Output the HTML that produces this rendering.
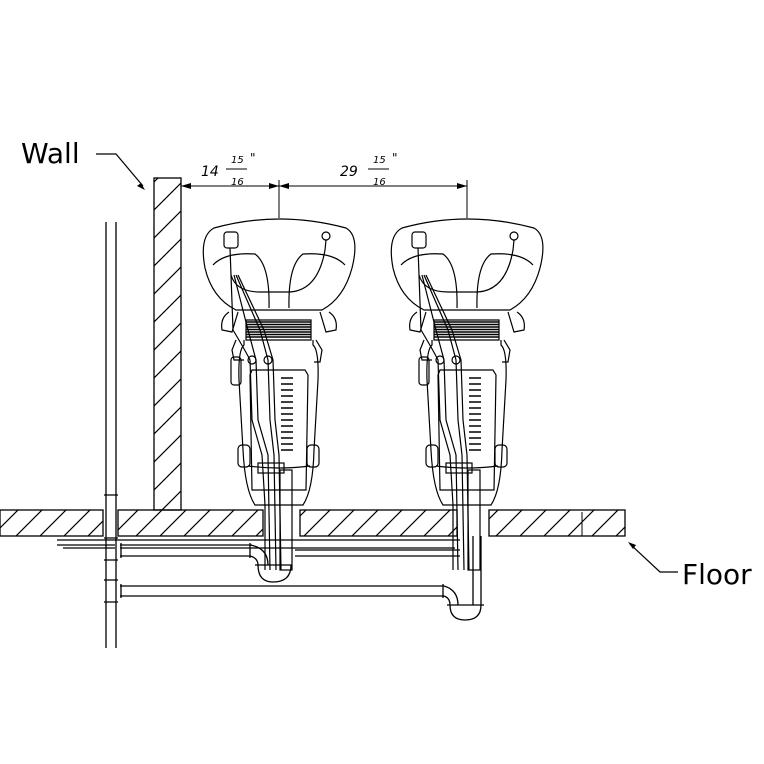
<!DOCTYPE html>
<html><head><meta charset="utf-8"><style>
html,body{margin:0;padding:0;background:#fff;}
svg{display:block;}
text{font-family:"DejaVu Sans","Liberation Sans",sans-serif;}
</style></head><body>
<svg width="764" height="764" viewBox="0 0 764 764" xmlns="http://www.w3.org/2000/svg">
<defs>
<pattern id="h" patternUnits="userSpaceOnUse" width="24" height="24">
<path d="M-6,30 L30,-6 M-30,30 L6,-6 M18,30 L54,-6" stroke="#000" stroke-width="1.2"/>
</pattern>
<pattern id="hw" patternUnits="userSpaceOnUse" width="28" height="28">
<path d="M0,28 L28,0 M-14,14 L14,-14 M14,42 L42,14" stroke="#000" stroke-width="1.2"/>
</pattern>
<g id="chair" fill="none" stroke="#000" stroke-width="1.2">
<path d="M214,228 Q279,210 346,228 Q360,236 352,268 Q344,298 322,310 L236,310 Q212,298 205,268 Q199,236 214,228 Z"/>
<path d="M213,265 Q225,252 255,254 Q270,265 269,308"/>
<path d="M345,265 Q333,252 303,254 Q288,265 289,308"/>
<path d="M229,312 Q220,318 222,330 L232,332 L238,312"/>
<path d="M329,312 Q338,318 336,330 L326,332 L320,312"/>
<path d="M246,320 L311,320 L311,340 L246,340 Z"/>
<path d="M246,322 H311 M246,324.5 H311 M246,327 H311 M246,329.5 H311 M246,332 H311 M246,334.5 H311 M246,337 H311" stroke-width="1.6"/>
<path d="M244,340 L244,345 Q238,350 239,380 L243,450 Q245,490 255,505 L303,505 Q313,490 314,450 L318,380 Q319,350 313,345 L313,340"/>
<path d="M252,370 L305,370 L308,375 L306,490 L252,490 L250,375 Z"/>
<path d="M281,378 H293 M281,384 H293 M281,390 H293 M281,396 H293 M281,402 H293 M281,408 H293 M281,414 H293 M281,420 H293 M281,426 H293 M281,432 H293 M281,438 H293 M281,444 H293 M281,450 H293" stroke-width="1.5"/>
<path d="M236,340 L232,350 L234,360 L244,360"/>
<path d="M316,340 L322,350 L320,362 L314,362"/>
<rect x="231" y="357" width="10" height="28" rx="3"/>
<rect x="238" y="445" width="12" height="22" rx="4"/>
<rect x="307" y="445" width="12" height="22" rx="4"/>
<path d="M248,466 Q279,470 310,466"/>
<rect x="224" y="232" width="14" height="16" rx="3"/>
<path d="M230,248 L231,275 Q236,292 260,292 L290,292 Q318,290 325,250 L326,240"/>
<circle cx="326" cy="236" r="4"/>
<path d="M231,275 L233,330 Q245,350 250,360 L252,420 L262,455 L265,505 L265,570"/>
<path d="M234,275 L248,330 L256,360 L258,420 L268,455 L270,570"/>
<path d="M236,275 L260,330 L268,360 L270,420 L274,455 L276,570"/>
<path d="M238,275 L264,330 L273,360 L275,420 L279,455 L281,570"/>
<circle cx="252" cy="360" r="4"/><circle cx="268" cy="360" r="4"/>
<rect x="258" y="463" width="26" height="10"/>
<rect x="280" y="470" width="12" height="100"/>
</g>
</defs>
<rect width="764" height="764" fill="#fff"/>
<rect x="154" y="178" width="27" height="332" fill="url(#hw)" stroke="#000" stroke-width="1.3"/>
<g stroke="#000" stroke-width="1.3">
<rect x="0" y="510" width="103" height="26" fill="url(#h)"/>
<rect x="118" y="510" width="145" height="26" fill="url(#h)"/>
<rect x="300" y="510" width="157" height="26" fill="url(#h)"/>
<rect x="489" y="510" width="136" height="26" fill="url(#h)"/>
</g>
<use href="#chair"/>
<use href="#chair" x="188"/>
<g fill="none" stroke="#000" stroke-width="1.3">
<path d="M106,222 L106,648 M116,222 L116,648"/>
<path d="M104,495 L118,495 M104,538 L118,538 M104,560 L118,560 M104,580 L118,580 M104,602 L118,602"/>
<path d="M57,540 L460,540 M57,545 L115,545 M63,548 L115,548 M120,548 L455,548"/>
<path d="M120,545 L252,545 M120,556 L250,556 M121,543 L121,558 M250,543 L250,558"/>
<path d="M250,545 Q268,548 268,565 M250,556 Q258,558 258,565"/>
<path d="M255,565 L292,565 M258,565 Q258,582 273,582 Q291,582 291,565"/>
<path d="M295,550 L460,550 M295,556 L460,556"/>
<path d="M120,586 L444,586 M120,596 L444,596 M121,584 L121,598 M443,584 L443,598"/>
<path d="M444,586 Q458,590 458,605 M444,596 Q450,598 450,605"/>
<path d="M447,605 L484,605 M450,605 Q450,620 465,620 Q481,620 481,605"/>
<path d="M473,536 L473,605 M481,536 L481,605"/>
</g>
<g stroke="#000" stroke-width="1" fill="none">
<path d="M181,186 L279,186 M279,186 L467,186 M279,180 L279,218 M467,180 L467,218"/>
<path d="M226,169 L247,169 M368,169 L389,169"/>
<path d="M582,512 L582,536"/>
</g>
<g fill="#000">
<path d="M181,186 l10,-3 l0,6z M279,186 l-10,-3 l0,6z M279,186 l10,-3 l0,6z M467,186 l-10,-3 l0,6z"/>
</g>
<g font-style="italic" font-size="14">
<text x="201" y="176">14</text>
<text x="231" y="163" font-size="10">15</text>
<text x="231" y="185" font-size="10">16</text>
<text x="250" y="162" font-size="12">"</text>
<text x="340" y="176">29</text>
<text x="373" y="163" font-size="10">15</text>
<text x="373" y="185" font-size="10">16</text>
<text x="392" y="162" font-size="12">"</text>
</g>
<text x="21" y="163" font-size="28">Wall</text>
<path d="M96,154 L116,154 L143,186" fill="none" stroke="#000" stroke-width="1.2"/>
<path d="M145,190 l-8,-4 l4,-3z" fill="#000"/>
<text x="682" y="584" font-size="28">Floor</text>
<path d="M678,572 L660,572 L630,544" fill="none" stroke="#000" stroke-width="1.2"/>
<path d="M628,542 l8,3 l-3,4z" fill="#000"/>
</svg>
</body></html>
